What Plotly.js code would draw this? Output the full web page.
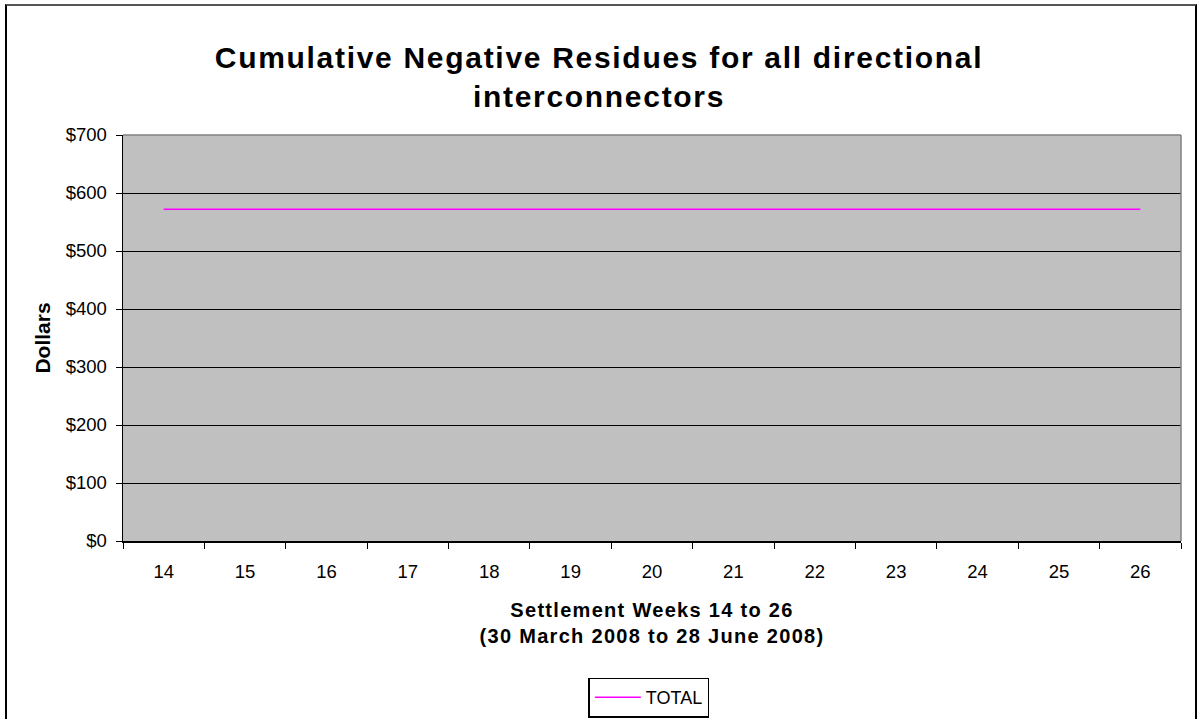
<!DOCTYPE html>
<html>
<head>
<meta charset="utf-8">
<script src="https://cdn.plot.ly/plotly-3.0.1.min.js"></script>
<style>
  html, body { margin: 0; padding: 0; background: #fff; overflow: hidden; }
  #wrap { position: relative; width: 1198px; height: 719px; overflow: hidden; }
  #chart { position: absolute; left: 0; top: 0; width: 1198px; height: 719px; }
  #frame { position: absolute; left: 5px; top: 4px; width: 1192px; height: 730px; border-left: 2px solid #000; border-right: 2px solid #000; border-top: 2px solid #555; box-sizing: border-box; pointer-events: none; }
  .gtitle { letter-spacing: 1.7px; }
  .xtitle { letter-spacing: 1.3px; }
</style>
</head>
<body>
<div id="wrap">
  <div id="chart"></div>
  <div id="frame"></div>
</div>
<script>
const weeks = ["14", "15", "16", "17", "18", "19", "20", "21", "22", "23", "24", "25", "26"];
const totalValues = [572, 572, 572, 572, 572, 572, 572, 572, 572, 572, 572, 572, 572];
const yTickVals = [0, 100, 200, 300, 400, 500, 600, 700];
const yTickText = ["$0", "$100", "$200", "$300", "$400", "$500", "$600", "$700"];

const trace = {
  x: weeks,
  y: totalValues,
  type: "scatter",
  mode: "lines",
  name: "TOTAL",
  line: { color: "#FF00FF", width: 1.5 }
};

const layout = {
  width: 1198,
  height: 719,
  margin: { l: 123, r: 17, t: 135, b: 177.5 },
  paper_bgcolor: "rgba(0,0,0,0)",
  plot_bgcolor: "#C0C0C0",
  font: { family: "Liberation Sans, Arial, sans-serif", color: "#000" },
  title: {
    text: "<b>Cumulative Negative Residues for all directional<br>interconnectors</b>",
    font: { size: 30, family: "Liberation Sans, Arial, sans-serif", color: "#000" },
    x: 0.5, xref: "container", xanchor: "center",
    y: 0.906, yref: "container", yanchor: "top"
  },
  xaxis: {
    type: "category",
    range: [-0.5, 12.5],
    automargin: false,
    tickson: "boundaries",
    ticks: "outside",
    ticklen: 6,
    tickcolor: "#000",
    tickwidth: 1,
    showline: true,
    linecolor: "#000",
    linewidth: 1.5,
    showgrid: false,
    tickfont: { size: 18.5 },
    ticklabelstandoff: 13,
    title: {
      text: "<b>Settlement Weeks 14 to 26<br>(30 March 2008 to 28 June 2008)</b>",
      font: { size: 20 },
      standoff: 22
    }
  },
  yaxis: {
    range: [0, 700],
    automargin: false,
    tickvals: yTickVals,
    ticktext: yTickText,
    ticks: "outside",
    ticklen: 6,
    tickcolor: "#000",
    showline: true,
    linecolor: "#000",
    linewidth: 1.5,
    showgrid: true,
    gridcolor: "#000",
    gridwidth: 1,
    zeroline: false,
    tickfont: { size: 18.5 },
    ticklabelstandoff: 5,
    title: {
      text: "<b>Dollars</b>",
      font: { size: 21 },
      standoff: 9
    }
  },
  shapes: [
    {
      type: "line", xref: "paper", yref: "paper",
      x0: 0, x1: 1, y0: 1, y1: 1,
      line: { color: "#808080", width: 1.5 }, layer: "above"
    },
    {
      type: "line", xref: "paper", yref: "paper",
      x0: 1, x1: 1, y0: 0, y1: 1,
      line: { color: "#808080", width: 1.5 }, layer: "above"
    }
  ],
  showlegend: true,
  legend: {
    orientation: "h",
    x: 0.497, xanchor: "center",
    yref: "container",
    y: 0.0575, yanchor: "top",
    bgcolor: "#fff",
    bordercolor: "#000",
    borderwidth: 1.5,
    itemwidth: 46,
    font: { size: 18 }
  }
};

Plotly.newPlot("chart", [trace], layout, { displayModeBar: false, staticPlot: true });
</script>
</body>
</html>
